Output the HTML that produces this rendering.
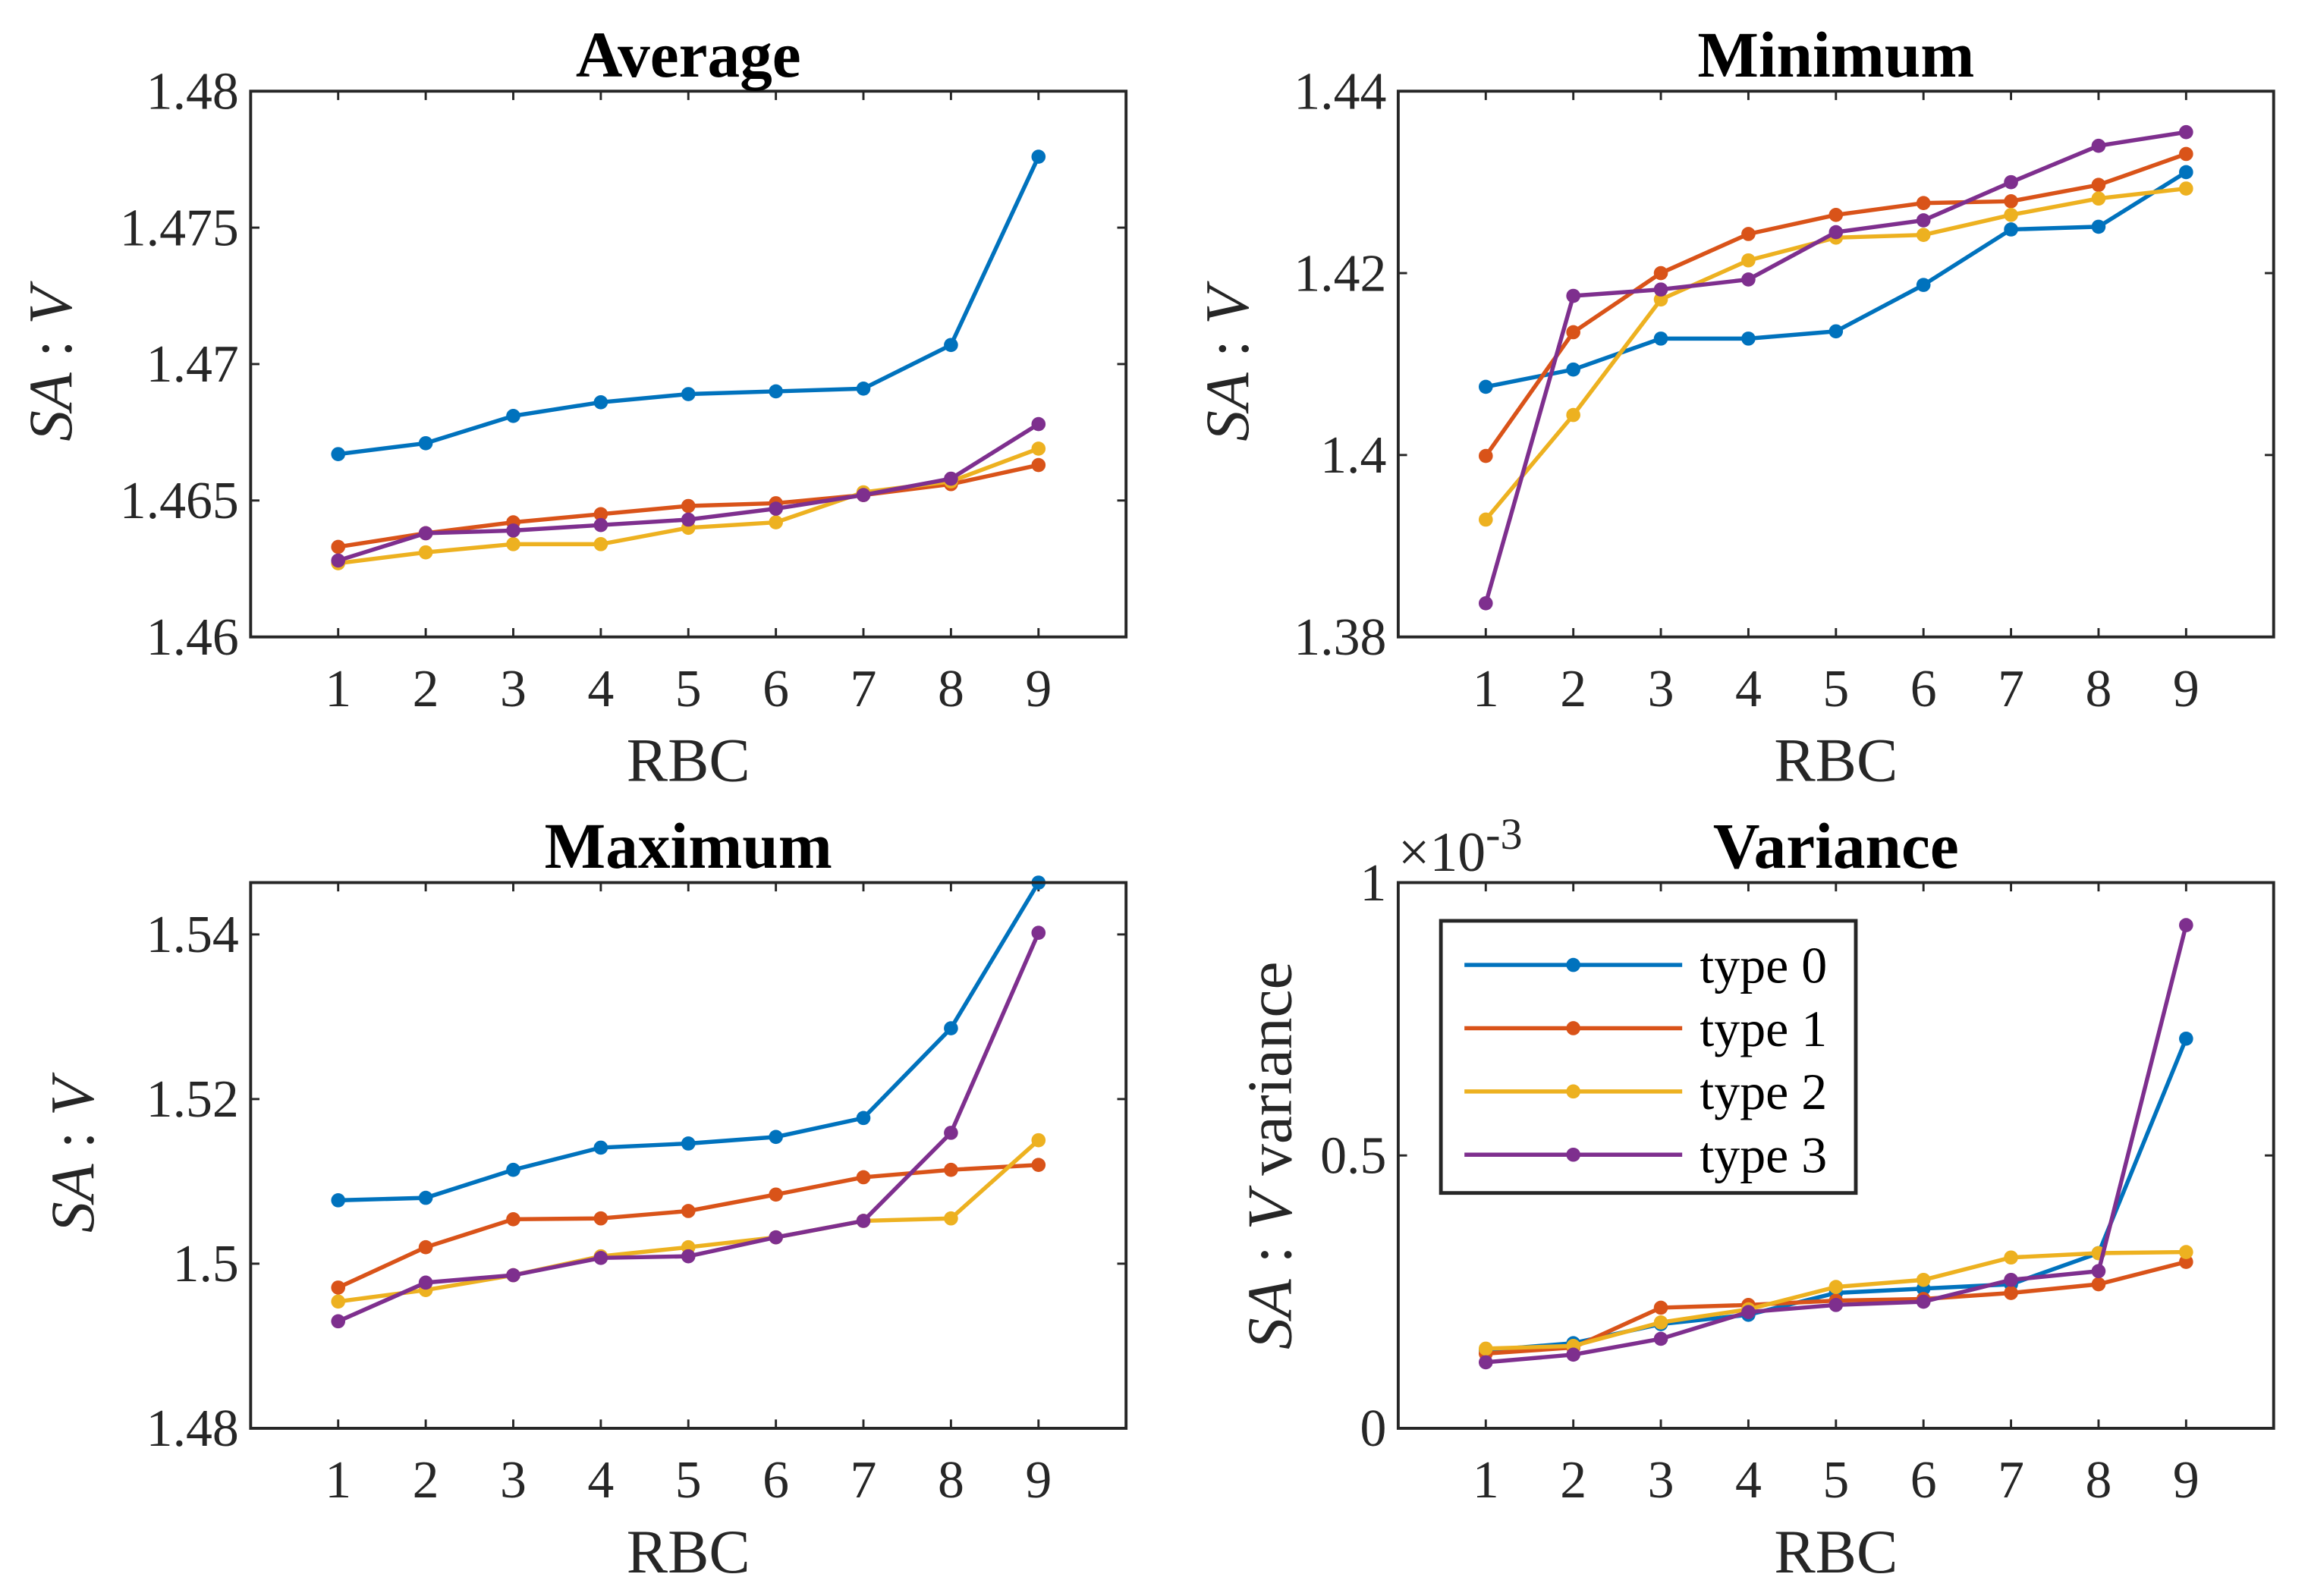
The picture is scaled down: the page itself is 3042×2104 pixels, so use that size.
<!DOCTYPE html>
<html><head><meta charset="utf-8"><style>
html,body{margin:0;padding:0;background:#fff;}
svg{display:block;font-family:"Liberation Serif",serif;}
</style></head><body>
<svg id="fig" width="3042" height="2104" viewBox="0 0 1568 1085" xmlns="http://www.w3.org/2000/svg">
<rect width="1568" height="1085" fill="#fff"/>
</svg>
<script>
const categories=[1,2,3,4,5,6,7,8,9];
const seriesNames=["type 0","type 1","type 2","type 3"];
const colors=["#0072BD","#D95319","#EDB120","#7E2F8E"];
const avgT0=[1.4667,1.4671,1.4681,1.4686,1.4689,1.4690,1.4691,1.4707,1.4776];
const avgT1=[1.4633,1.4638,1.4642,1.4645,1.4648,1.4649,1.4652,1.4656,1.4663];
const avgT2=[1.4627,1.4631,1.4634,1.4634,1.4640,1.4642,1.4653,1.4657,1.4669];
const avgT3=[1.4628,1.4638,1.4639,1.4641,1.4643,1.4647,1.4652,1.4658,1.4678];
const minT0=[1.4075,1.4094,1.4128,1.4128,1.4136,1.4187,1.4248,1.4251,1.4311];
const minT1=[1.3999,1.4135,1.4200,1.4243,1.4264,1.4277,1.4279,1.4297,1.4331];
const minT2=[1.3929,1.4044,1.4171,1.4214,1.4239,1.4242,1.4264,1.4282,1.4293];
const minT3=[1.3837,1.4175,1.4182,1.4193,1.4245,1.4258,1.4300,1.4340,1.4355];
const maxT0=[1.5077,1.5080,1.5114,1.5141,1.5146,1.5154,1.5177,1.5286,1.5463];
const maxT1=[1.4971,1.5020,1.5054,1.5055,1.5064,1.5084,1.5105,1.5114,1.5120];
const maxT2=[1.4954,1.4968,1.4986,1.5009,1.5020,1.5032,1.5052,1.5055,1.5150];
const maxT3=[1.4930,1.4977,1.4986,1.5007,1.5009,1.5032,1.5052,1.5159,1.5402];
const varT0=[0.143,0.156,0.191,0.208,0.248,0.256,0.264,0.321,0.714];
const varT1=[0.137,0.148,0.221,0.226,0.234,0.237,0.248,0.264,0.305];
const varT2=[0.146,0.151,0.194,0.218,0.259,0.272,0.313,0.321,0.323];
const varT3=[0.121,0.135,0.164,0.213,0.226,0.232,0.272,0.288,0.922];
const avgTicks=["1.46","1.465","1.47","1.475","1.48"];
const minTicks=["1.38","1.4","1.42","1.44"];
const maxTicks=["1.48","1.5","1.52","1.54"];
const varTicks=["0","0.5","1"];

const NS="http://www.w3.org/2000/svg";
const svg=document.getElementById("fig");
function el(tag,attrs,parent,text){const e=document.createElementNS(NS,tag);for(const k in attrs)e.setAttribute(k,attrs[k]);if(text!==undefined)e.textContent=text;(parent||svg).appendChild(e);return e;}

const panels=[
 {name:"average",title:"Average",x0:170,x1:765,y0:62,y1:433,ymin:1.46,ymax:1.48,ticks:avgTicks,tickVals:[1.46,1.465,1.47,1.475,1.48],data:[avgT0,avgT1,avgT2,avgT3],ylx:48,yl:"plain"},
 {name:"minimum",title:"Minimum",x0:950,x1:1545,y0:62,y1:433,ymin:1.38,ymax:1.44,ticks:minTicks,tickVals:[1.38,1.4,1.42,1.44],data:[minT0,minT1,minT2,minT3],ylx:848,yl:"plain"},
 {name:"maximum",title:"Maximum",x0:170,x1:765,y0:600,y1:971,ymin:1.48,ymax:1.5463,ticks:maxTicks,tickVals:[1.48,1.5,1.52,1.54],data:[maxT0,maxT1,maxT2,maxT3],ylx:63,yl:"plain"},
 {name:"variance",title:"Variance",x0:950,x1:1545,y0:600,y1:971,ymin:0,ymax:1,ticks:varTicks,tickVals:[0,0.5,1],data:[varT0,varT1,varT2,varT3],ylx:877,yl:"var"}
];

panels.forEach(p=>{
  const g=el("g",{});
  
  
  const xs=v=>p.x0+(v-0)/(10-0)*(p.x1-p.x0);
  const ys=v=>p.y1-(v-p.ymin)/(p.ymax-p.ymin)*(p.y1-p.y0);
  const tl=6;
  categories.forEach(c=>{
    const x=xs(c);
    el("line",{x1:x,x2:x,y1:p.y1,y2:p.y1-tl,stroke:"#262626","stroke-width":1.5},g);
    el("line",{x1:x,x2:x,y1:p.y0,y2:p.y0+tl,stroke:"#262626","stroke-width":1.5},g);
    const t=el("text",{x:x,y:p.y1+47,"font-size":36,"text-anchor":"middle",fill:"#262626"},g,String(c));
    
    
  });
  p.tickVals.forEach((v,i)=>{
    const y=ys(v);
    el("line",{x1:p.x0,x2:p.x0+tl,y1:y,y2:y,stroke:"#262626","stroke-width":1.5},g);
    el("line",{x1:p.x1,x2:p.x1-tl,y1:y,y2:y,stroke:"#262626","stroke-width":1.5},g);
    const t=el("text",{x:p.x0-8,y:y+12,"font-size":36,"text-anchor":"end",fill:"#262626"},g,p.ticks[i]);
    
    
  });
  p.data.forEach((arr,si)=>{
    const pts=arr.map((v,i)=>xs(categories[i])+","+ys(v)).join(" ");
    const pl=el("polyline",{points:pts,fill:"none",stroke:colors[si],"stroke-width":2.8,"stroke-linejoin":"round"},g);
    
    
    arr.forEach((v,i)=>{
      const c=el("circle",{cx:xs(categories[i]),cy:ys(v),r:4.8,fill:colors[si]},g);
      
      
    });
  });
  el("rect",{x:p.x0,y:p.y0,width:p.x1-p.x0,height:p.y1-p.y0,fill:"none",stroke:"#262626","stroke-width":2},g);
  const tt=el("text",{x:(p.x0+p.x1)/2,y:p.y0-10,"font-size":44,"font-weight":"bold","text-anchor":"middle",fill:"#000"},g,p.title);
  
  
  const xl=el("text",{x:(p.x0+p.x1)/2,y:p.y1+98,"font-size":42,"text-anchor":"middle",fill:"#262626"},g,"RBC");
  
  
  const cy=(p.y0+p.y1)/2;
  const yl=el("text",{x:p.ylx,y:cy,"font-size":p.yl==="var"?43:42,"text-anchor":"middle",fill:"#262626",transform:"rotate(-90 "+p.ylx+" "+cy+")"},g);
  
  
  el("tspan",{"font-style":"italic"},yl,"SA");
  el("tspan",{},yl," : ");
  el("tspan",{"font-style":"italic"},yl,"V");
  if(p.yl==="var") el("tspan",{},yl," variance");
  if(p.name==="variance"){
    const ex=el("text",{x:950,y:592,"font-size":38,fill:"#262626"},g);
    
    
    el("tspan",{},ex,"×10");
    el("tspan",{dy:-15,"font-size":30},ex,"-3");
    const lg=el("g",{},g);
    
    
    el("rect",{x:979,y:626,width:282,height:185,fill:"#fff",stroke:"#262626","stroke-width":2.5},lg);
    seriesNames.forEach((n,i)=>{
      const y=656+i*43;
      const e=el("g",{},lg);
      
      
      el("line",{x1:995,x2:1143,y1:y,y2:y,stroke:colors[i],"stroke-width":2.8},e);
      el("circle",{cx:1069,cy:y,r:4.8,fill:colors[i]},e);
      el("text",{x:1155,y:y+12,"font-size":35,fill:"#000"},e,n);
    });
  }
  svg.appendChild(g);
});
</script>
</body></html>
